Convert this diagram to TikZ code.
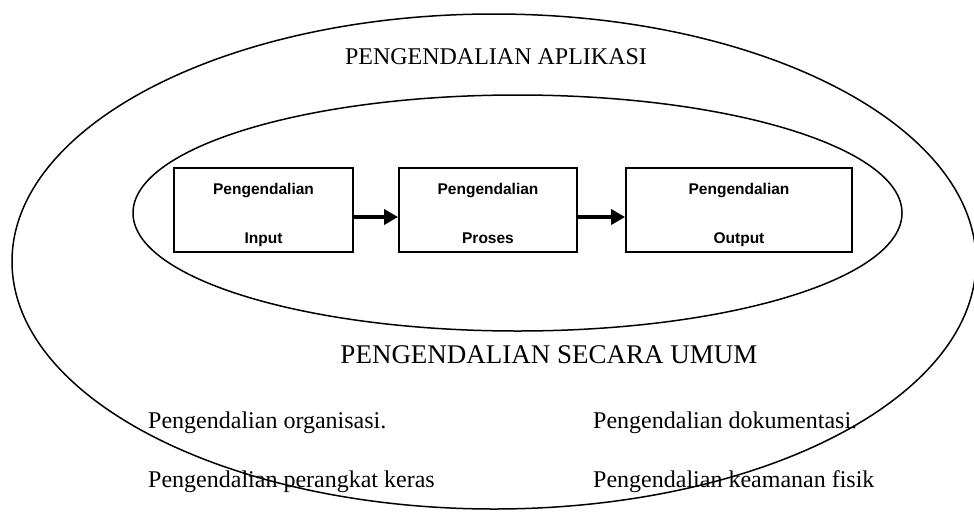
\documentclass[tikz,border=0pt]{standalone}
\usepackage{fontspec}
\setmainfont{Liberation Serif}
\newfontfamily\boxfont{Liberation Sans}
\usetikzlibrary{arrows.meta}
\begin{document}
\begin{tikzpicture}[x=1pt,y=-1pt,
  ring/.style={draw=black,line width=1.5pt},
  ctrlbox/.style={draw=black,line width=1.8pt},
  boxlabel/.style={anchor=base,inner sep=0pt,font=\boxfont\bfseries\fontsize{15.5}{18}\selectfont},
  title/.style={anchor=base,inner sep=0pt},
  item/.style={anchor=base west,inner sep=0pt,font=\fontsize{24}{28}\selectfont},
  flow/.style={line width=4pt,-{Triangle[length=14pt,width=15pt]}}]
\useasboundingbox (0,0) rectangle (974,512);

% outer and inner scopes of control
\draw[ring] (494,261.5) ellipse [x radius=482,y radius=247.5];
\draw[ring] (517.5,213) ellipse [x radius=384.5,y radius=118];

% application controls chain
\node[ctrlbox,minimum width=179pt,minimum height=84pt,inner sep=0pt] (input) at (263.5,210) {};
\node[ctrlbox,minimum width=178pt,minimum height=84pt,inner sep=0pt] (proses) at (488,210) {};
\node[ctrlbox,minimum width=226pt,minimum height=84pt,inner sep=0pt] (output) at (739,210) {};

\node[boxlabel] (inputA) at (263.5,194) {Pengendalian};
\node[boxlabel] (inputB) at (263.5,243) {Input};
\node[boxlabel] (prosesA) at (488,194) {Pengendalian};
\node[boxlabel] (prosesB) at (488,243) {Proses};
\node[boxlabel] (outputA) at (739,194) {Pengendalian};
\node[boxlabel] (outputB) at (739,243) {Output};

\draw[flow] ([yshift=-7pt]input.east) -- ([yshift=-7pt]proses.west);
\draw[flow] ([yshift=-7pt]proses.east) -- ([yshift=-7pt]output.west);

% headings
\node[title,font=\fontsize{24}{28}\selectfont] (aplikasi) at (496,64) {PENGENDALIAN APLIKASI};
\node[title,font=\fontsize{27}{32}\selectfont] (umum) at (549,363) {PENGENDALIAN SECARA UMUM};

% general controls
\node[item] (org) at (148,428) {Pengendalian organisasi.};
\node[item] (hw) at (148,487) {Pengendalian perangkat keras};
\node[item] (dok) at (593,428) {Pengendalian dokumentasi.};
\node[item] (fisik) at (593,487) {Pengendalian keamanan fisik};
\end{tikzpicture}
\end{document}
